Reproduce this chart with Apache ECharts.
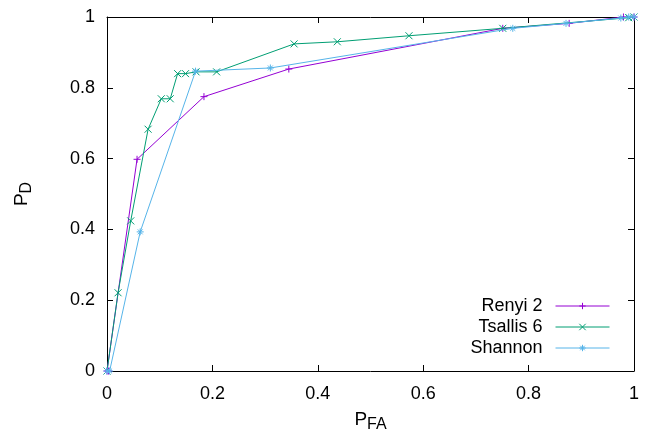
<!DOCTYPE html>
<html>
<head>
<meta charset="utf-8">
<script src="https://cdn.jsdelivr.net/npm/echarts@6/dist/echarts.min.js"></script>
<style>
html,body{margin:0;padding:0;background:#fff;}
#chart{width:645px;height:433px;}
</style>
</head>
<body>
<div id="chart"></div>
<script>
// Data
const seriesNames = ['Renyi 2', 'Tsallis 6', 'Shannon'];
const renyiX = [0, 0.003, 0.057, 0.184, 0.345, 0.751, 0.877, 0.98, 1];
const renyiY = [0, 0, 0.598, 0.775, 0.853, 0.968, 0.982, 1, 1];
const tsallisX = [0, 0.021, 0.045, 0.078, 0.103, 0.120, 0.134, 0.149, 0.169, 0.208, 0.355, 0.437, 0.573, 0.751, 0.99, 1];
const tsallisY = [0, 0.221, 0.424, 0.683, 0.769, 0.769, 0.840, 0.840, 0.845, 0.845, 0.924, 0.930, 0.947, 0.968, 0.998, 1];
const shannonX = [0, 0.005, 0.063, 0.168, 0.310, 0.770, 0.871, 0.975, 0.99, 1];
const shannonY = [0, 0, 0.393, 0.847, 0.856, 0.968, 0.982, 0.997, 1, 1];
const xTicks = [0, 0.2, 0.4, 0.6, 0.8, 1];
const yTicks = [0, 0.2, 0.4, 0.6, 0.8, 1];

const colors = ['#9400d3', '#009e73', '#56b4e9'];
const symPlus = 'path://M0,5L10,5M5,0L5,10';
const symCross = 'path://M0,0L10,10M10,0L0,10';
const symStar = 'path://M0,5L10,5M5,0L5,10M1.5,1.5L8.5,8.5M8.5,1.5L1.5,8.5';
const symbols = [symPlus, symCross, symStar];
const FONT = 'Liberation Sans';

function pairs(xs, ys) { return xs.map((x, i) => [x, ys[i]]); }
const allData = [pairs(renyiX, renyiY), pairs(tsallisX, tsallisY), pairs(shannonX, shannonY)];

const chart = echarts.init(document.getElementById('chart'), null, {renderer: 'canvas'});

const axisCommon = {
  type: 'value', min: 0, max: 1, interval: 0.2,
  axisLine: {show: true, onZero: false, lineStyle: {color: '#000', width: 1}},
  axisTick: {show: true, inside: true, length: 6, lineStyle: {color: '#000', width: 1}},
  splitLine: {show: false}
};

const series = seriesNames.map((name, i) => ({
  name: name,
  type: 'line',
  data: allData[i],
  symbol: symbols[i],
  symbolSize: 7,
  showAllSymbol: true,
  lineStyle: {color: colors[i], width: 1},
  itemStyle: {color: colors[i], borderColor: colors[i], borderWidth: 1},
  emphasis: {disabled: true},
  animation: false,
  z: 2 + i
}));

const legends = seriesNames.map((name, i) => ({
  data: [name],
  right: 30,
  top: 292 + i * 21,
  align: 'right',
  orient: 'vertical',
  itemWidth: 54,
  itemHeight: 8,
  selectedMode: false,
  lineStyle: {width: 1},
  itemStyle: {borderWidth: 1},
  textStyle: {fontFamily: FONT, fontSize: 18, color: '#000', padding: [0, 8, 0, 0]}
}));

chart.setOption({
  animation: false,
  backgroundColor: '#fff',
  grid: {left: 107, right: 11, top: 17, bottom: 62, containLabel: false, outerBoundsMode: 'none'},
  legend: legends,
  xAxis: [
    Object.assign({}, axisCommon, {
      position: 'bottom',
      axisLabel: {fontFamily: FONT, fontSize: 18, color: '#000', margin: 14,
        formatter: v => String(xTicks.find(t => Math.abs(t - v) < 1e-9))},
      name: '{p|P}{s|FA}',
      nameLocation: 'middle',
      nameGap: 36,
      nameTextStyle: {fontFamily: FONT, color: '#000',
        rich: {p: {fontFamily: FONT, fontSize: 19, color: '#000'},
               s: {fontFamily: FONT, fontSize: 16, color: '#000', padding: [10, 0, 0, 0]}}}
    }),
    Object.assign({}, axisCommon, {position: 'top', axisLabel: {show: false}})
  ],
  yAxis: [
    Object.assign({}, axisCommon, {
      position: 'left',
      axisLabel: {fontFamily: FONT, fontSize: 18, color: '#000', margin: 12,
        formatter: v => String(yTicks.find(t => Math.abs(t - v) < 1e-9))},
      name: '{p|P}{s|D}',
      nameLocation: 'middle',
      nameRotate: 90,
      nameGap: 72,
      nameTextStyle: {fontFamily: FONT, color: '#000',
        rich: {p: {fontFamily: FONT, fontSize: 19, color: '#000'},
               s: {fontFamily: FONT, fontSize: 16, color: '#000', padding: [10, 0, 0, 0]}}}
    }),
    Object.assign({}, axisCommon, {position: 'right', axisLabel: {show: false}})
  ],
  series: series
});
</script>
</body>
</html>
